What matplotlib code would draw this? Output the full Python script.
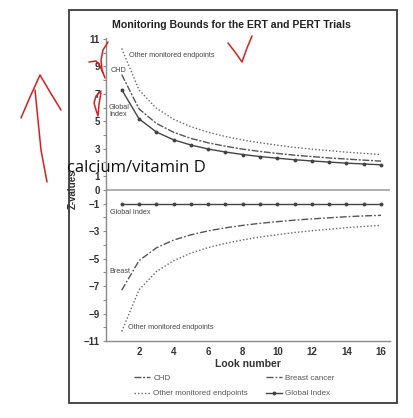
import matplotlib
matplotlib.use("Agg")
import matplotlib.pyplot as plt
from matplotlib.lines import Line2D
from matplotlib.patches import Rectangle

plt.rcParams["font.family"] = ["Liberation Sans", "DejaVu Sans"]

looks = list(range(1, 17))
chd_upper = [8.4, 5.9, 4.85, 4.2, 3.75, 3.43, 3.18, 2.97, 2.8, 2.66, 2.53, 2.43, 2.33, 2.25, 2.17, 2.1]
other_upper = [10.3, 7.28, 5.95, 5.15, 4.6, 4.2, 3.89, 3.64, 3.43, 3.26, 3.1, 2.97, 2.86, 2.75, 2.66, 2.58]
global_upper = [7.3, 5.18, 4.22, 3.65, 3.27, 2.98, 2.76, 2.58, 2.43, 2.31, 2.2, 2.11, 2.03, 1.95, 1.89, 1.83]
global_lower = [-1.0] * 16
breast_lower = [-7.3, -5.15, -4.22, -3.65, -3.27, -2.98, -2.76, -2.58, -2.43, -2.31, -2.2, -2.11, -2.03, -1.95, -1.89, -1.85]
other_lower = [-10.3, -7.28, -5.95, -5.15, -4.6, -4.2, -3.89, -3.64, -3.43, -3.26, -3.1, -2.97, -2.86, -2.75, -2.66, -2.58]

y_major = [11, 9, 7, 5, 3, 1, 0, -1, -3, -5, -7, -9, -11]
y_minor = [10, 8, 6, 4, 2, -2, -4, -6, -8, -10]
x_major = [2, 4, 6, 8, 10, 12, 14, 16]

W, H = 413, 418
fig = plt.figure(figsize=(W / 100, H / 100), dpi=100)
fig.patch.set_facecolor("white")

def px(x, y):
    return (x / W, 1 - y / H)

# frame around the slide chart
fig.add_artist(Rectangle(px(69, 403), 328 / W, 393 / H, transform=fig.transFigure,
                         fill=False, edgecolor="#3a3a3a", linewidth=1.3))

ax = fig.add_axes([106 / W, 1 - 341 / H, 284 / W, (341 - 37.5) / H])
ax.set_xlim(0.09, 16.52)
ax.set_ylim(-11, 11.1)

col = "#555555"
ax.axhline(0, color="#9a9a9a", linewidth=1.1, zorder=1)
(l_chd,) = ax.plot(looks, chd_upper, color=col, linewidth=1.0, dashes=(5, 1.2, 1.5, 1.2), label="CHD")
(l_other,) = ax.plot(looks, other_upper, color="#666666", linewidth=1.0, linestyle=(0, (1, 1.5)),
                     label="Other monitored endpoints")
(l_global,) = ax.plot(looks, global_upper, color="#444444", linewidth=1.0, marker="o", markersize=1.8,
                      label="Global Index")
(l_breast,) = ax.plot(looks, breast_lower, color=col, linewidth=1.0, dashes=(5, 1.5, 1.2, 1.5),
                      label="Breast cancer")
ax.plot(looks, other_lower, color="#666666", linewidth=1.0, linestyle=(0, (1, 1.5)))
ax.plot(looks, global_lower, color="#444444", linewidth=1.0, marker="o", markersize=1.8)

lab = dict(fontsize=5.2, color="#444444")
ax.text(1.42, 9.8, "Other monitored endpoints", ha="left", va="center", **lab)
ax.text(0.36, 8.7, "CHD", ha="left", va="center", **lab)
ax.text(0.26, 5.75, "Global\nIndex", ha="left", va="center", linespacing=1.0, **lab)
ax.text(0.3, -1.66, "Global Index", ha="left", va="center", **lab)
ax.text(0.3, -5.94, "Breast", ha="left", va="center", **lab)
ax.text(1.35, -10.0, "Other monitored endpoints", ha="left", va="center", **lab)

ax.spines["top"].set_visible(False)
ax.spines["right"].set_visible(False)
for s in ("left", "bottom"):
    ax.spines[s].set_color("#8a8a8a")
    ax.spines[s].set_linewidth(1.0)

ax.set_yticks(y_major)
ax.set_yticks(y_minor, minor=True)
ax.set_yticklabels([str(v).replace("-", "\u2212") for v in y_major])
ax.set_xticks(x_major)
ax.tick_params(axis="both", which="both", colors="#8a8a8a", labelcolor="#333333",
               labelsize=7, length=2.5, width=0.8, pad=2)
ax.tick_params(axis="y", which="minor", length=2)
ax.tick_params(axis="x", length=0, pad=4)
for t in ax.get_xticklabels() + ax.get_yticklabels():
    t.set_fontweight("bold")

ax.set_xlabel("Look number", fontsize=7.5, fontweight="bold", color="#333333", labelpad=2)
ax.set_ylabel("Z-values", fontsize=7, fontweight="bold", color="#333333", labelpad=4)

fig.text(231 / W, 1 - 25 / H, "Monitoring Bounds for the ERT and PERT Trials",
         ha="center", va="center", fontsize=7.6, fontweight="bold", color="#222222")

leg = fig.legend(handles=[l_chd, l_other, l_breast, l_global],
                 loc="upper left", bbox_to_anchor=(134 / W, 1 - 374 / H), ncol=2,
                 frameon=False, fontsize=5.8, handlelength=2.0, handletextpad=0.4,
                 columnspacing=2.2, labelspacing=1.0, borderaxespad=0, borderpad=0)
for t in leg.get_texts():
    t.set_color("#555555")

# caption overlay from the video
fig.text(67 / W, 1 - 168 / H, "calcium/vitamin D", ha="left", va="center",
         fontsize=12, family=["Open Sans", "DejaVu Sans"], color="#111111")

# red pen annotations
red = dict(color="#d42020", linewidth=1.1, transform=fig.transFigure, solid_capstyle="round")
strokes = [
    [(35, 90), (38, 120), (41, 150), (47, 182)],
    [(21, 118), (30, 97), (40, 75), (50, 92), (61, 110)],
    [(228, 43), (235, 52), (242, 62), (247, 48), (252, 36)],
    [(108, 42), (103, 50), (101, 60), (102, 70), (105, 78)],
    [(89, 62), (96, 61), (100, 66), (103, 73)],
    [(101, 91), (96, 96), (94, 103), (96, 110), (98, 116), (99, 104), (101, 93)],
]
for pts in strokes:
    xs, ys = zip(*[px(x, y) for x, y in pts])
    fig.add_artist(Line2D(xs, ys, **red))

fig.savefig("out.png", dpi=100)
